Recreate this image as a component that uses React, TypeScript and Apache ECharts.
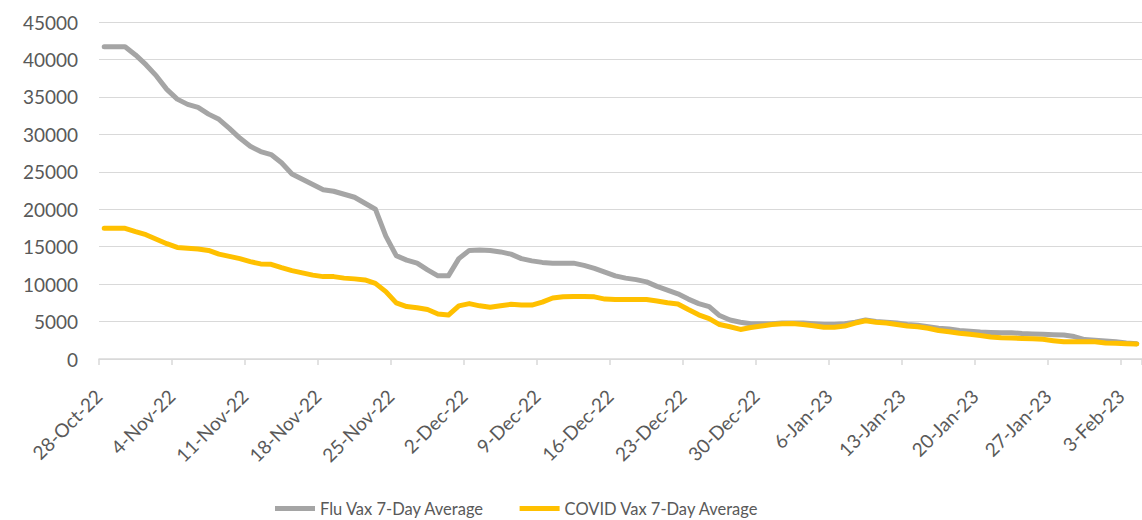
import React, { useEffect, useRef } from "react";
import * as echarts from "echarts";

const START_DATE = "2022-10-28";
const DAY_COUNT = 100;
const MONTHS = ["Jan", "Feb", "Mar", "Apr", "May", "Jun", "Jul", "Aug", "Sep", "Oct", "Nov", "Dec"];

const fluVax7DayAvg = [
  41700, 41700, 41700, 40600, 39300, 37800, 36000, 34700, 34000, 33600,
  32700, 32000, 30800, 29500, 28400, 27700, 27300, 26200, 24700, 24000,
  23300, 22600, 22400, 22000, 21600, 20800, 20000, 16400, 13800, 13200,
  12800, 11900, 11100, 11100, 13400, 14500, 14550, 14500, 14300, 14000,
  13400, 13100, 12900, 12800, 12800, 12800, 12500, 12100, 11600, 11100,
  10800, 10600, 10300, 9700, 9200, 8700, 8000, 7400, 7000, 5800,
  5200, 4900, 4700, 4700, 4700, 4800, 4800, 4800, 4700, 4600,
  4600, 4700, 4900, 5200, 5000, 4900, 4800, 4600, 4500, 4300,
  4100, 4000, 3800, 3700, 3600, 3550, 3500, 3500, 3400, 3350,
  3300, 3250, 3200, 3000, 2600, 2500, 2400, 2300, 2150, 2050,
];

const covidVax7DayAvg = [
  17450, 17450, 17450, 17000, 16600, 16000, 15400, 14900, 14800, 14700,
  14500, 14000, 13700, 13400, 13000, 12700, 12650, 12200, 11800, 11500,
  11200, 11000, 11000, 10800, 10700, 10550, 10100, 9000, 7500, 7000,
  6850, 6600, 6000, 5870, 7100, 7400, 7100, 6900, 7100, 7300,
  7200, 7200, 7600, 8150, 8300, 8350, 8350, 8300, 8000, 7950,
  7950, 7950, 7950, 7750, 7500, 7350, 6600, 5900, 5400, 4600,
  4300, 3950, 4200, 4400, 4600, 4700, 4750, 4600, 4450, 4250,
  4250, 4400, 4800, 5100, 4900, 4800, 4600, 4400, 4300, 4100,
  3800, 3650, 3450, 3300, 3150, 2950, 2850, 2800, 2750, 2700,
  2630, 2450, 2300, 2300, 2300, 2300, 2150, 2100, 2050, 2000,
];

const seriesNames = ["Flu Vax 7-Day Average", "COVID Vax 7-Day Average"];
const yTicks = { min: 0, max: 45000, interval: 5000 };

function buildDates(): string[] {
  const out: string[] = [];
  const d0 = new Date(START_DATE + "T12:00:00Z");
  for (let i = 0; i < DAY_COUNT; i++) {
    const d = new Date(d0.getTime() + i * 86400000);
    out.push(`${d.getUTCDate()}-${MONTHS[d.getUTCMonth()]}-${String(d.getUTCFullYear()).slice(2)}`);
  }
  return out;
}

const categories = buildDates();

export default function App() {
  const ref = useRef<HTMLDivElement>(null);
  useEffect(() => {
    if (!ref.current) return;
    const chart = echarts.init(ref.current, null, { renderer: "svg" });
    const font = "Lato, sans-serif";
    chart.setOption({
      animation: false,
      backgroundColor: "#ffffff",
      textStyle: { fontFamily: font },
      grid: { left: 99, top: 22, right: -4, bottom: 161, containLabel: false },
      legend: {
        bottom: 3,
        left: 275,
        padding: 0,
        icon: "rect",
        itemWidth: 40,
        itemHeight: 5,
        itemGap: 35,
        textStyle: { color: "#595959", fontSize: 16.5, fontFamily: font },
        data: seriesNames,
      },
      xAxis: {
        type: "category",
        data: categories,
        boundaryGap: true,
        axisLine: { lineStyle: { color: "#D9D9D9", width: 1.5 } },
        axisTick: { show: true, interval: 6, length: 6, lineStyle: { color: "#D9D9D9", width: 1.5 } },
        axisLabel: {
          interval: 6,
          rotate: 45,
          color: "#595959",
          fontSize: 19,
          fontFamily: font,
          margin: 28,
          padding: [0, 8, 0, 0],
        },
        splitLine: { show: false },
      },
      yAxis: {
        type: "value",
        min: yTicks.min,
        max: yTicks.max,
        interval: yTicks.interval,
        axisLine: { show: false },
        axisTick: { show: false },
        axisLabel: {
          color: "#595959",
          fontSize: 19,
          fontFamily: font,
          margin: 21,
          formatter: (v: number) => String(v),
        },
        splitLine: { lineStyle: { color: "#D9D9D9", width: 1 } },
      },
      series: [
        {
          name: seriesNames[0],
          type: "line",
          data: fluVax7DayAvg,
          symbol: "none",
          smooth: false,
          color: "#A5A5A5",
          lineStyle: { color: "#A5A5A5", width: 5, join: "round", cap: "round" },
        },
        {
          name: seriesNames[1],
          type: "line",
          data: covidVax7DayAvg,
          symbol: "none",
          smooth: false,
          color: "#FFC000",
          lineStyle: { color: "#FFC000", width: 5, join: "round", cap: "round" },
        },
      ],
    });
    return () => chart.dispose();
  }, []);
  return (
    <div
      ref={ref}
      style={{ position: "absolute", left: 0, top: 0, width: 1142, height: 520, background: "#fff" }}
    />
  );
}
